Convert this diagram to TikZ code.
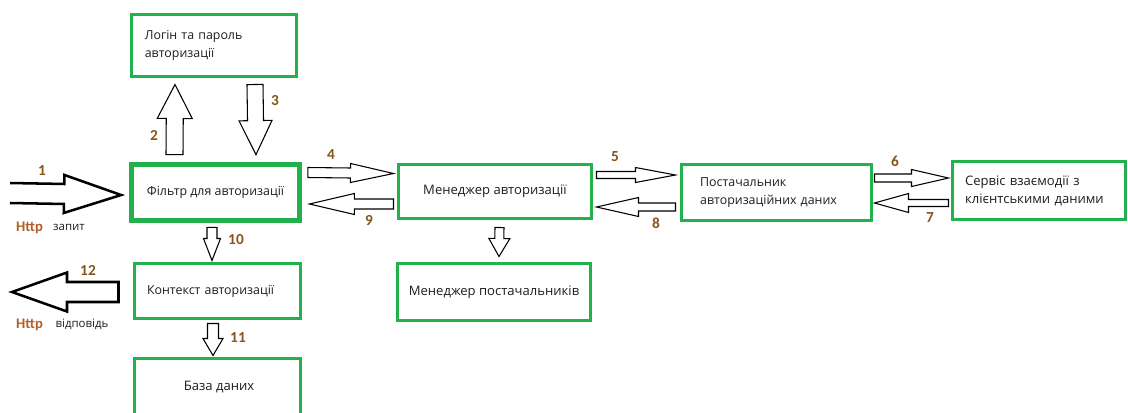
\documentclass[tikz,border=0pt]{standalone}
\usepackage{fontspec}
\setmainfont{Open Sans}
\newfontfamily\numfont{Carlito}
\usetikzlibrary{calc}

\definecolor{boxgreen}{RGB}{34,177,76}
\definecolor{stepnum}{RGB}{135,85,30}
\definecolor{httpcol}{RGB}{180,95,40}
\definecolor{ink}{RGB}{30,30,30}

% Block arrow from #2 to its tip #3: shaft half-width #4, head half-width #5,
% head length #6 (all in px); #1 = extra style.
\newcommand\barrow[6][]{%
  \coordinate (ba-s) at #2;
  \coordinate (ba-t) at #3;
  \coordinate (ba-h) at ($(ba-t)!#6*0.75pt!(ba-s)$);
  \draw[blockarrow,#1]
    ($(ba-s)!#4*0.75pt!90:(ba-t)$) -- ($(ba-h)!#4*0.75pt!90:(ba-t)$) --
    ($(ba-h)!#5*0.75pt!90:(ba-t)$) -- (ba-t) --
    ($(ba-h)!#5*0.75pt!-90:(ba-t)$) -- ($(ba-h)!#4*0.75pt!-90:(ba-t)$) --
    ($(ba-s)!#4*0.75pt!-90:(ba-t)$) -- cycle;
}
% Same shape, but left open at the tail end
\newcommand\barrowopen[6][]{%
  \coordinate (ba-s) at #2;
  \coordinate (ba-t) at #3;
  \coordinate (ba-h) at ($(ba-t)!#6*0.75pt!(ba-s)$);
  \fill[white] ($(ba-s)!#4*0.75pt!90:(ba-t)$) -- ($(ba-h)!#4*0.75pt!90:(ba-t)$) --
    ($(ba-h)!#5*0.75pt!90:(ba-t)$) -- (ba-t) --
    ($(ba-h)!#5*0.75pt!-90:(ba-t)$) -- ($(ba-h)!#4*0.75pt!-90:(ba-t)$) --
    ($(ba-s)!#4*0.75pt!-90:(ba-t)$) -- cycle;
  \draw[blockarrow,#1]
    ($(ba-s)!#4*0.75pt!90:(ba-t)$) -- ($(ba-h)!#4*0.75pt!90:(ba-t)$) --
    ($(ba-h)!#5*0.75pt!90:(ba-t)$) -- (ba-t) --
    ($(ba-h)!#5*0.75pt!-90:(ba-t)$) -- ($(ba-h)!#4*0.75pt!-90:(ba-t)$) --
    ($(ba-s)!#4*0.75pt!-90:(ba-t)$);
}

\tikzset{
  box/.style={draw=boxgreen, line width=2.25pt, fill=white, inner sep=0pt,
    text=ink, font=\fontsize{9.3}{13.5}\selectfont},
  leftbox/.style={box, align=left},
  bigtext/.style={font=\fontsize{9.8}{13.5}\selectfont},
  blockarrow/.style={draw=black, fill=white, line width=0.8pt, line join=miter},
  heavyarrow/.style={line width=1.9pt},
  stepno/.style={text=stepnum, font=\numfont\bfseries\fontsize{11.5}{12}\selectfont, inner sep=0pt},
  httptag/.style={text=httpcol, font=\numfont\bfseries\fontsize{11}{12}\selectfont, inner sep=0pt},
  note/.style={text=ink, font=\fontsize{8.6}{10}\selectfont, inner sep=0pt},
}

\begin{document}
\begin{tikzpicture}[x=0.75pt, y=-0.75pt]
  \useasboundingbox (0,0) rectangle (1128,412);
  \fill[white] (0,0) rectangle (1128,412);
  \clip (0,0) rectangle (1128,412);

  % Components
  \node[leftbox, minimum height=46.5pt, inner xsep=10pt, text width=103.75pt]
    (login) at (214,45.5) {Логін та пароль\\авторизації};
  \node[box, line width=4pt, minimum width=125.6pt, minimum height=41.6pt]
    (filter) at (215.5,192.5) {Фільтр для авторизації};
  \node[box, bigtext, minimum width=144.75pt, minimum height=40.5pt]
    (mgr) at (495,191.5) {Менеджер авторизації};
  \node[box, bigtext, minimum width=144.75pt, minimum height=42.75pt]
    (pmgr) at (494,292) {Менеджер постачальників};
  \node[leftbox, minimum height=42pt, inner xsep=14pt, text width=114.5pt]
    (prov) at (776.5,192.5) {Постачальник\\авторизаційних даних};
  \node[leftbox, bigtext, minimum height=43.5pt, inner xsep=9.4pt, text width=110.95pt]
    (svc) at (1039,190.5) {Сервіс взаємодії з\\клієнтськими даними};
  \node[leftbox, minimum height=41.25pt, inner xsep=9.4pt, text width=105.7pt]
    (ctx) at (217.5,291) {Контекст авторизації};
  \node[box, minimum width=124.5pt, minimum height=49.5pt]
    (db) at (217.5,391.5) {};
  \node[text=ink, bigtext] (dbtext) at (219,387) {База даних};

  % Free ends of the request / response arrows
  \coordinate (req) at (10,193);
  \coordinate (resp) at (12,292);

  % Flow arrows
  \barrowopen[heavyarrow]{(req)}{($(filter.west)+(-8,2.5)$)}{10}{19}{57}
  \barrow{($(filter.north)+(-41,-7.5)$)}{($(login.south)+(-39,6.5)$)}{8.5}{17.5}{34}
  \barrow{($(login.south)+(41,6.5)$)}{($(filter.north)+(40.5,-7.5)$)}{8}{16.5}{34}
  \barrow{($(filter.east)+(6,-20)$)}{($(mgr.west)+(-3.5,-18)$)}{5}{9.5}{43}
  \barrow{($(mgr.west)+(-3.5,12.5)$)}{($(filter.east)+(7.5,11.5)$)}{5}{10.5}{45}
  \barrow{($(mgr.east)+(3.5,-16.5)$)}{($(prov.west)+(-4.5,-17.5)$)}{3.5}{7.5}{40}
  \barrow{($(prov.west)+(-4.5,14.5)$)}{($(mgr.east)+(3.5,15.5)$)}{4}{9.5}{42}
  \barrow{($(prov.east)+(1.5,-14.5)$)}{($(svc.west)+(-2.5,-12.5)$)}{4}{8.5}{37}
  \barrow{($(svc.west)+(-2.5,12.5)$)}{($(prov.east)+(1.5,10.5)$)}{3.5}{9.5}{34}
  \barrow{($(mgr.south)+(4.5,7.5)$)}{($(pmgr.north)+(5,-5.5)$)}{4.5}{10.5}{18}
  \barrow{($(filter.south)+(-3.5,4.5)$)}{($(ctx.north)+(-5.5,-1.5)$)}{5}{8.5}{22}
  \barrow{($(ctx.south)+(-4.5,3.5)$)}{($(db.north)+(-4.5,-1.5)$)}{5.5}{10}{17}
  \barrow[heavyarrow]{($(ctx.west)+(-14.5,1)$)}{(resp)}{10}{19.5}{55}

  % Step numbers
  \node[stepno] (n1)  at (42,171)  {1};
  \node[stepno] (n2)  at (154,135) {2};
  \node[stepno] (n3)  at (275,101) {3};
  \node[stepno] (n4)  at (331,155) {4};
  \node[stepno] (n5)  at (615,157) {5};
  \node[stepno] (n6)  at (895,161) {6};
  \node[stepno] (n7)  at (930,218) {7};
  \node[stepno] (n8)  at (656,223) {8};
  \node[stepno] (n9)  at (369,220) {9};
  \node[stepno] (n10) at (236,240) {10};
  \node[stepno] (n11) at (238,338) {11};
  \node[stepno] (n12) at (88,270)  {12};

  % Request / response captions
  \node[httptag] (h1) at (29.5,228) {Http};
  \node[note] (t1) at (69,227) {запит};
  \node[httptag] (h2) at (29.5,325) {Http};
  \node[note] (t2) at (82,324) {відповідь};
\end{tikzpicture}
\end{document}
